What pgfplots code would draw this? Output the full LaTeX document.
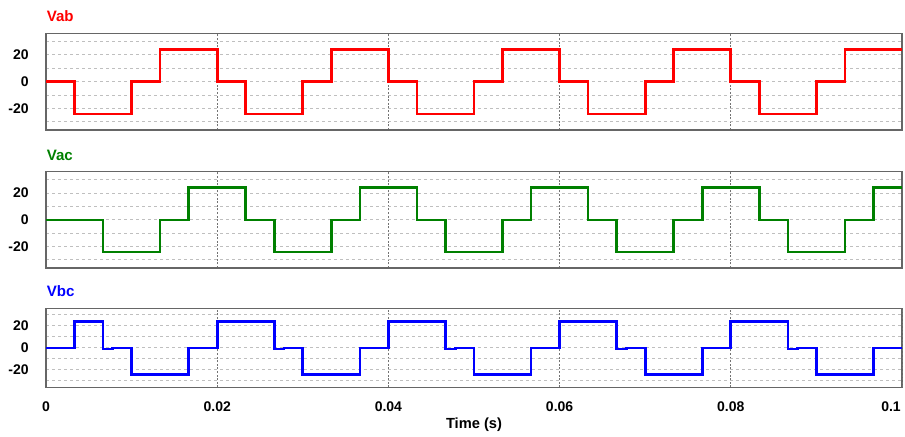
\documentclass[border=0pt]{standalone}
\usepackage{fontspec}
\setmainfont{Liberation Sans}
\usepackage{pgfplots}
\pgfplotsset{compat=1.18}
\definecolor{vred}{RGB}{255,0,0}
\definecolor{vgreen}{RGB}{0,128,0}
\definecolor{vblue}{RGB}{0,0,255}
\pgfplotsset{
  panel/.style={
    scale only axis, width=642pt,
    xmin=0, xmax=0.1, ymin=-36, ymax=36,
    xtick={0,0.02,0.04,0.06,0.08}, xticklabels={},
    ytick={-20,0,20}, yticklabels={-20,0,20},
    minor ytick={-30,-10,10,30},
    major tick length=0pt, minor tick length=0pt,
    xmajorgrids, ymajorgrids, yminorgrids,
    x grid style={black!55, line width=0.6pt, dash pattern=on 1.5pt off 1.2pt},
    y grid style={black!25, line width=0.75pt, dash pattern=on 2.4pt off 2.1pt},
    axis line style={black!60, line width=0.8pt},
    tick label style={font=\bfseries\fontsize{10.5}{12}\selectfont},
    yticklabel style={anchor=east, inner sep=0pt, xshift=-12.75pt},
    xticklabel style={anchor=north, inner sep=0pt, yshift=-10.6pt},
    every axis plot/.append style={const plot, line width=2pt, line join=miter},
    anchor=north west,
  }
}
\begin{document}
\begin{tikzpicture}
\useasboundingbox (0pt,0pt) rectangle (678.75pt,327pt);
% Vab
\begin{axis}[panel, at={(34.5pt,302pt)}, height=72.5pt]
\addplot[vred] coordinates {
(0,0) (0.003333,-24) (0.01,0) (0.013333,24)
(0.02,0) (0.023333,-24) (0.03,0) (0.033333,24)
(0.04,0) (0.043333,-24) (0.05,0) (0.053333,24)
(0.06,0) (0.063333,-24) (0.07,0) (0.073333,24)
(0.08,0) (0.083333,-24) (0.09,0) (0.093333,24)
(0.1,24)};
\end{axis}
% Vac
\begin{axis}[panel, at={(34.5pt,198.2pt)}, height=72.2pt]
\addplot[vgreen] coordinates {
(0,0) (0.006667,-24) (0.013333,0) (0.016667,24)
(0.023333,0) (0.026667,-24) (0.033333,0) (0.036667,24)
(0.043333,0) (0.046667,-24) (0.053333,0) (0.056667,24)
(0.063333,0) (0.066667,-24) (0.073333,0) (0.076667,24)
(0.083333,0) (0.086667,-24) (0.093333,0) (0.096667,24)
(0.1,24)};
\end{axis}
% Vbc
\begin{axis}[panel, at={(34.5pt,95.8pt)}, height=59.4pt,
  xticklabels={0,0.02,0.04,0.06,0.08},
  extra x ticks={0.1}, extra x tick labels={0.1},
  extra x tick style={xticklabel style={xshift=-8.25pt}}]
\addplot[vblue] coordinates {
(0,0) (0.003333,24) (0.006667,-1) (0.0078,0) (0.01,-24) (0.016667,0)
(0.02,24) (0.026667,-1) (0.0278,0) (0.03,-24) (0.036667,0)
(0.04,24) (0.046667,-1) (0.0478,0) (0.05,-24) (0.056667,0)
(0.06,24) (0.066667,-1) (0.0678,0) (0.07,-24) (0.076667,0)
(0.08,24) (0.086667,-1) (0.0878,0) (0.09,-24) (0.096667,0)
(0.1,0)};
\end{axis}
\node[anchor=base west, inner sep=0pt, text=vred, font=\bfseries\fontsize{11.3}{13}\selectfont] at (34.9pt,311pt) {Vab};
\node[anchor=base west, inner sep=0pt, text=vgreen, font=\bfseries\fontsize{11.3}{13}\selectfont] at (34.9pt,207pt) {Vac};
\node[anchor=base west, inner sep=0pt, text=vblue, font=\bfseries\fontsize{11.3}{13}\selectfont] at (34.9pt,104.5pt) {Vbc};
\node[anchor=base, inner sep=0pt, font=\bfseries\fontsize{11}{13}\selectfont] at (355.5pt,5.8pt) {Time (s)};
\end{tikzpicture}
\end{document}
